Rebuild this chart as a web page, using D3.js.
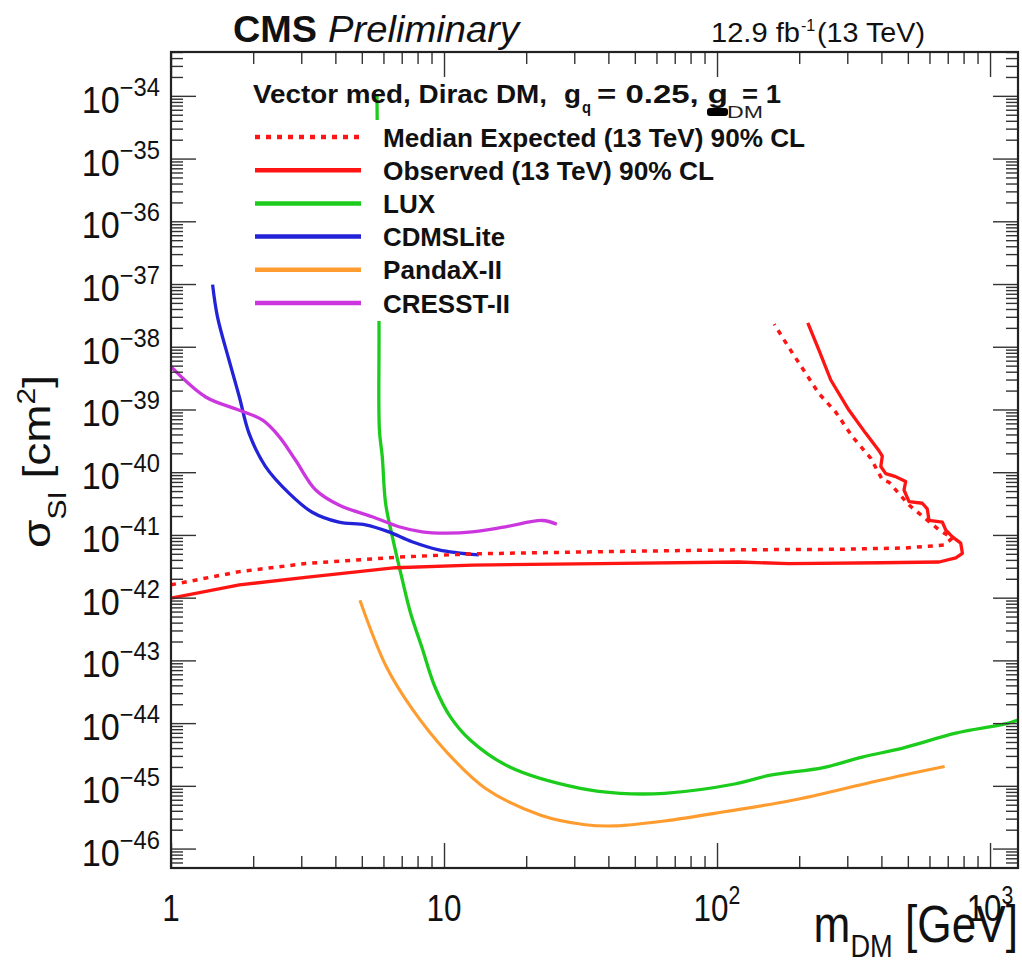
<!DOCTYPE html>
<html>
<head>
<meta charset="utf-8">
<script src="https://cdn.jsdelivr.net/npm/d3@7"></script>
<style>
  html, body { margin: 0; padding: 0; background: #fff; }
  svg { display: block; font-family: "Liberation Sans", Arial, Helvetica, sans-serif; }
</style>
</head>
<body>
<script>
// values: [m_DM in GeV, sigma_SI in cm^2]
var observed = [
  [1.00, 9.8e-43], [1.78, 1.6e-42], [3.11, 2.1e-42], [6.65, 3.0e-42], [12.7, 3.3e-42],
  [37.0, 3.5e-42], [120, 3.7e-42], [183, 3.5e-42], [400, 3.6e-42], [651, 3.7e-42],
  [749, 4.3e-42], [792, 5.1e-42], [781, 7.4e-42], [728, 9.3e-42], [688, 1.2e-41],
  [669, 1.6e-41], [598, 1.7e-41], [589, 2.6e-41], [565, 3.2e-41], [505, 3.4e-41],
  [484, 5.2e-41], [491, 7.1e-41], [451, 8.5e-41], [415, 9.5e-41], [398, 1.23e-40],
  [403, 1.8e-40], [392, 2.2e-40], [350, 4.2e-40], [304, 9.8e-40], [261, 2.95e-39],
  [236, 8.9e-39], [215, 2.4e-38]
];
var expected = [
  [1.00, 1.6e-42], [1.78, 2.6e-42], [3.11, 3.5e-42], [6.65, 4.4e-42], [12.7, 5.0e-42],
  [37.0, 5.4e-42], [120, 5.8e-42], [280, 5.9e-42], [491, 6.2e-42], [678, 6.9e-42],
  [728, 8.9e-42], [651, 1.2e-41], [505, 3.0e-41], [427, 6.9e-41], [403, 7.6e-41],
  [366, 1.66e-40], [313, 3.7e-40], [272, 9.1e-40], [236, 1.8e-39], [211, 3.8e-39],
  [189, 7.9e-39], [173, 1.45e-38], [162, 2.3e-38]
];
var lux = [
  [5.68, 1.0e-34], [5.78, 2.5e-38], [5.80, 4.7e-40], [5.94, 1.78e-40], [6.11, 3.2e-41],
  [6.47, 9.3e-42], [7.04, 1.9e-42], [7.55, 5.6e-43], [8.28, 1.66e-43], [9.26, 3.8e-44],
  [10.55, 1.26e-44], [12.47, 5.4e-45], [17.4, 2.0e-45], [31.6, 9.1e-46], [44.2, 7.6e-46],
  [64.2, 7.6e-46], [116, 1.07e-45], [157, 1.48e-45], [245, 1.95e-45], [343, 2.9e-45],
  [479, 4.0e-45], [749, 6.9e-45], [1148, 9.8e-45], [1266, 1.12e-44]
];
var cdmsLite = [
  [1.42, 9.8e-38], [1.48, 3.0e-38], [1.63, 6.2e-39], [1.78, 1.58e-39], [1.93, 4.2e-40],
  [2.22, 1.23e-40], [2.71, 4.6e-41], [3.29, 2.3e-41], [4.12, 1.6e-41], [5.16, 1.45e-41],
  [6.28, 1.12e-41], [7.64, 7.8e-42], [9.57, 5.8e-42], [13.4, 4.8e-42]
];
var pandaX = [
  [4.92, 9.1e-43], [6.15, 7.9e-44], [7.69, 1.62e-44], [10.2, 3.5e-45], [14.2, 9.1e-46],
  [22.6, 3.4e-46], [32.9, 2.4e-46], [42.6, 2.3e-46], [64.2, 2.75e-46], [108, 3.9e-46],
  [189, 5.9e-46], [330, 1.02e-45], [479, 1.48e-45], [682, 2.04e-45]
];
var cresst = [
  [1.00, 4.8e-39], [1.34, 1.58e-39], [1.77, 9.8e-40], [2.16, 6.8e-40], [2.49, 3.7e-40],
  [2.86, 1.55e-40], [3.39, 5.2e-41], [4.12, 3.0e-41], [5.46, 1.95e-41], [6.84, 1.35e-41],
  [8.32, 1.12e-41], [10.1, 1.07e-41], [12.7, 1.12e-41], [16.8, 1.35e-41], [22.9, 1.7e-41],
  [25.9, 1.48e-41]
];

var legendLabels = [
  "Median Expected (13 TeV) 90% CL",
  "Observed (13 TeV) 90% CL",
  "LUX",
  "CDMSLite",
  "PandaX-II",
  "CRESST-II"
];
var xTickValues = [1, 10, 100, 1000];
var xTickBases = ["1", "10", "10", "10"];
var xTickExponents = ["", "", "2", "3"];
var yTickExponents = [-46, -45, -44, -43, -42, -41, -40, -39, -38, -37, -36, -35, -34];

var W = 1022, H = 965;
var pLeft = 171, pRight = 1018, pTop = 52, pBottom = 868;

var svg = d3.select("body").append("svg").attr("width", W).attr("height", H);

var x = d3.scaleLog().domain([1, 1266]).range([pLeft, pRight]);
var y = d3.scaleLog().domain([4.9e-47, 5.0e-34]).range([pBottom, pTop]);

svg.append("clipPath").attr("id", "plotclip")
  .append("rect").attr("x", pLeft).attr("y", pTop).attr("width", pRight - pLeft).attr("height", pBottom - pTop);

var line = d3.line().x(function (d) { return x(d[0]); }).y(function (d) { return y(d[1]); });
var smooth = d3.line().x(function (d) { return x(d[0]); }).y(function (d) { return y(d[1]); })
  .curve(d3.curveCatmullRom.alpha(0.5));

var series = [
  { data: expected, color: "#ff1414", dash: "5,6", gen: line, width: 3.5 },
  { data: observed, color: "#ff1414", dash: null, gen: line, width: 3.3 },
  { data: lux, color: "#1ccc1c", dash: null, gen: smooth, width: 3.3 },
  { data: cdmsLite, color: "#2222d8", dash: null, gen: smooth, width: 3.3 },
  { data: pandaX, color: "#ff9c30", dash: null, gen: smooth, width: 3.1 },
  { data: cresst, color: "#cc36de", dash: null, gen: smooth, width: 3.3 }
];

var plot = svg.append("g").attr("clip-path", "url(#plotclip)");
// draw order as in the original: experiments first, CMS limits on top
[2, 3, 4, 5, 0, 1].forEach(function (i) {
  var s = series[i];
  plot.append("path").datum(s.data)
    .attr("d", s.gen)
    .attr("fill", "none")
    .attr("stroke", s.color)
    .attr("stroke-width", s.width)
    .attr("stroke-dasharray", s.dash)
    .attr("stroke-linejoin", "round");
});

// legend box (white, no border) covers the curves behind it
svg.append("rect").attr("x", 236).attr("y", 120).attr("width", 604).attr("height", 201).attr("fill", "#fff");

var rowY = d3.scalePoint().domain(d3.range(legendLabels.length)).range([137, 303]);
var textWidths = [422, 331, 52, 122, 119, 127];
legendLabels.forEach(function (lab, i) {
  var s = series[i];
  svg.append("line")
    .attr("x1", 255).attr("x2", 361).attr("y1", rowY(i)).attr("y2", rowY(i))
    .attr("stroke", s.color).attr("stroke-width", 4.5)
    .attr("stroke-dasharray", s.dash);
  svg.append("text")
    .attr("x", 383).attr("y", rowY(i) + 9.5)
    .attr("font-size", 26).attr("font-weight", "bold").attr("fill", "#111")
    .attr("textLength", textWidths[i]).attr("lengthAdjust", "spacingAndGlyphs")
    .text(lab);
});

// legend header
function boldText(str, xx, yy, size, len) {
  var t = svg.append("text").attr("x", xx).attr("y", yy)
    .attr("font-size", size).attr("font-weight", "bold").attr("fill", "#111").text(str);
  if (len) t.attr("textLength", len).attr("lengthAdjust", "spacingAndGlyphs");
  return t;
}
boldText("Vector med, Dirac DM,", 253, 103, 26, 294);
boldText("g", 564, 103, 26, 17);
boldText("q", 582, 113, 17, 9);
boldText("= 0.25, g", 597, 103, 26, 131);
svg.append("rect").attr("x", 707).attr("y", 108).attr("width", 21).attr("height", 8).attr("rx", 3).attr("fill", "#000");
svg.append("text").attr("x", 727).attr("y", 118).attr("font-size", 17).attr("fill", "#222")
  .attr("textLength", 36).attr("lengthAdjust", "spacingAndGlyphs").text("DM");
boldText("= 1", 742, 103, 26, 39);

// axes: ticks on all four sides, pointing inward
var xMinor = [], yMinor = [];
for (var e = 0; e < 4; e++) for (var k = 2; k <= 9; k++) {
  var v = k * Math.pow(10, e);
  if (v <= 1266) xMinor.push(v);
}
for (var e2 = -47; e2 <= -34; e2++) for (var k2 = 2; k2 <= 9; k2++) {
  var v2 = k2 * Math.pow(10, e2);
  if (v2 >= 4.9e-47 && v2 <= 5.0e-34) yMinor.push(v2);
}
var yMajor = yTickExponents.map(function (p) { return Math.pow(10, p); });

function addAxis(axisFn, scale, values, size, transform) {
  var g = svg.append("g").attr("transform", transform)
    .call(axisFn(scale).tickValues(values).tickSize(-size).tickFormat(""));
  g.select(".domain").remove();
  g.selectAll(".tick line").attr("stroke", "#333").attr("stroke-width", 1.4);
}
addAxis(d3.axisBottom, x, xTickValues, 25, "translate(0," + pBottom + ")");
addAxis(d3.axisBottom, x, xMinor, 12, "translate(0," + pBottom + ")");
addAxis(d3.axisTop, x, xTickValues, 25, "translate(0," + pTop + ")");
addAxis(d3.axisTop, x, xMinor, 12, "translate(0," + pTop + ")");
addAxis(d3.axisLeft, y, yMajor, 25, "translate(" + pLeft + ",0)");
addAxis(d3.axisLeft, y, yMinor, 12, "translate(" + pLeft + ",0)");
addAxis(d3.axisRight, y, yMajor, 25, "translate(" + pRight + ",0)");
addAxis(d3.axisRight, y, yMinor, 12, "translate(" + pRight + ",0)");

svg.append("rect").attr("x", pLeft).attr("y", pTop).attr("width", pRight - pLeft).attr("height", pBottom - pTop)
  .attr("fill", "none").attr("stroke", "#222").attr("stroke-width", 2.2);

// x tick labels
xTickValues.forEach(function (v, i) {
  var t = svg.append("g").attr("transform", "translate(" + x(v) + ",921) scale(0.85,1)")
    .append("text").attr("text-anchor", "middle").attr("font-size", 37).attr("fill", "#111");
  t.append("tspan").text(xTickBases[i]);
  if (xTickExponents[i]) t.append("tspan").attr("font-size", 25).attr("dy", -17).text(xTickExponents[i]);
});

// y tick labels
yTickExponents.forEach(function (p) {
  var t = svg.append("g").attr("transform", "translate(160," + (y(Math.pow(10, p)) + 17) + ") scale(0.95,1)")
    .append("text").attr("text-anchor", "end").attr("font-size", 36).attr("fill", "#111");
  t.append("tspan").text("10");
  t.append("tspan").attr("font-size", 25).attr("dy", -17).text("\u2212" + Math.abs(p));
});

// axis titles
var xt = svg.append("g").attr("transform", "translate(1018,942) scale(0.85,1)")
  .append("text").attr("text-anchor", "end").attr("font-size", 52).attr("fill", "#111");
xt.append("tspan").text("m");
xt.append("tspan").attr("font-size", 32).attr("dy", 15).text("DM");
xt.append("tspan").attr("dy", -15).text(" [GeV]");

var yt = svg.append("g").attr("transform", "translate(50,548) rotate(-90) scale(1,0.85)")
  .append("text").attr("text-anchor", "start").attr("font-size", 46).attr("fill", "#111");
yt.append("tspan").text("\u03c3");
yt.append("tspan").attr("font-size", 30).attr("dy", 19).text("SI");
yt.append("tspan").attr("dy", -19).text(" [cm");
yt.append("tspan").attr("font-size", 30).attr("dy", -18).text("2");
yt.append("tspan").attr("dy", 18).text("]");

// header above the frame
boldText("CMS", 233, 42, 37, 84);
svg.append("text").attr("x", 328).attr("y", 42).attr("font-size", 37).attr("font-style", "italic")
  .attr("fill", "#111").attr("textLength", 191).attr("lengthAdjust", "spacingAndGlyphs").text("Preliminary");
svg.append("text").attr("x", 711).attr("y", 42).attr("font-size", 27).attr("fill", "#111")
  .attr("textLength", 89).attr("lengthAdjust", "spacingAndGlyphs").text("12.9 fb");
svg.append("text").attr("x", 801).attr("y", 31).attr("font-size", 16).attr("fill", "#111").text("-1");
svg.append("text").attr("x", 817).attr("y", 42).attr("font-size", 27).attr("fill", "#111")
  .attr("textLength", 108).attr("lengthAdjust", "spacingAndGlyphs").text("(13 TeV)");
</script>
</body>
</html>
